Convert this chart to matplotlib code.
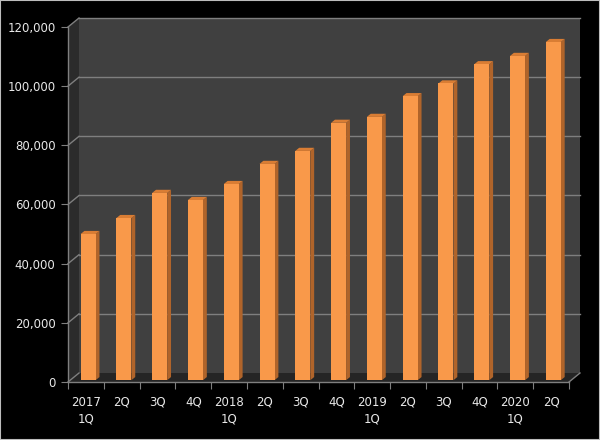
import matplotlib
matplotlib.use("Agg")
from matplotlib import pyplot as plt
from matplotlib.patches import Polygon, Rectangle
import numpy as np

# quarterly values
quarters = ["2017\n1Q", "2Q", "3Q", "4Q", "2018\n1Q", "2Q", "3Q", "4Q",
            "2019\n1Q", "2Q", "3Q", "4Q", "2020\n1Q", "2Q"]
values = [49400, 54800, 63300, 60900, 66300, 73100, 77500, 87000,
          89000, 96000, 100300, 106800, 109600, 114300]
y_ticks = [0, 20000, 40000, 60000, 80000, 100000, 120000]
y_labels = ["0", "20,000", "40,000", "60,000", "80,000", "100,000", "120,000"]

W, H = 600, 440
fig = plt.figure(figsize=(W / 100, H / 100), dpi=100, facecolor="black")
# front plane of the 3D box, in pixels
left_px, right_px, bot_px, top_px = 68, 569, 382, 27
ax = fig.add_axes([left_px / W, 1 - bot_px / H,
                   (right_px - left_px) / W, (bot_px - top_px) / H])
ax.set_facecolor("none")

n = len(values)
ymax = 120000
ax.set_xlim(0, n)
ax.set_ylim(0, ymax)

# depth offset of the back wall (11 px right, 9 px up) in data units
DX = 11 / ((right_px - left_px) / n)
DY = 9 * ymax / (bot_px - top_px)

wall_c = "#404040"
side_c = "#2b2b2b"
floor_c = "#252525"
grid_c = "#7f7f7f"

# back wall
ax.add_patch(Rectangle((DX, DY), n, ymax, facecolor=wall_c, edgecolor="none",
                       zorder=0, clip_on=False))
# left side wall
ax.add_patch(Polygon([(0, 0), (DX, DY), (DX, ymax + DY), (0, ymax)],
                     closed=True, facecolor=side_c, edgecolor="none",
                     zorder=0.5, clip_on=False))
# floor
ax.add_patch(Polygon([(0, 0), (n, 0), (n + DX, DY), (DX, DY)], closed=True,
                     facecolor=floor_c, edgecolor="none", zorder=0.5,
                     clip_on=False))

# gridlines on wall + side
for yv in y_ticks[1:]:
    ax.plot([DX, n + DX], [yv + DY, yv + DY], color=grid_c, lw=1,
            zorder=1, clip_on=False)
    ax.plot([0, DX], [yv, yv + DY], color=grid_c, lw=1, zorder=1,
            clip_on=False)
ax.plot([0, DX], [0, DY], color=grid_c, lw=1, zorder=1, clip_on=False)
ax.plot([n, n + DX], [0, DY], color=grid_c, lw=1, zorder=1, clip_on=False)

# 3D bars
f0, f1 = 0.2, 0.55
bw = 0.42
xs = np.arange(n) + 0.5 + f0 * DX
base = f0 * DY
ddx = (f1 - f0) * DX
ddy = (f1 - f0) * DY
front_c = "#f9994a"
top_c = "#d97d34"
sidebar_c = "#b0642a"
ax.bar(xs, values, width=bw, bottom=base, color=front_c, zorder=3)
for x, v in zip(xs, values):
    xl, xr = x - bw / 2, x + bw / 2
    top = base + v
    ax.add_patch(Polygon([(xr, base), (xr + ddx, base + ddy),
                          (xr + ddx, top + ddy), (xr, top)], closed=True,
                         facecolor=sidebar_c, edgecolor="none", zorder=2.9))
    ax.add_patch(Polygon([(xl, top), (xr, top), (xr + ddx, top + ddy),
                          (xl + ddx, top + ddy)], closed=True,
                         facecolor=top_c, edgecolor="none", zorder=2.9))

# axes lines and ticks
for s in ["top", "right"]:
    ax.spines[s].set_visible(False)
for s in ["left", "bottom"]:
    ax.spines[s].set_color(grid_c)
    ax.spines[s].set_linewidth(1)
ax.set_yticks(y_ticks)
ax.set_yticklabels(y_labels)
ax.set_xticks(np.arange(n + 1))
ax.set_xticklabels([])
ax.set_xticks(np.arange(n) + 0.5, minor=True)
ax.set_xticklabels(quarters, minor=True)
ax.tick_params(axis="y", colors=grid_c, labelcolor="#e8e8e8", length=5,
               labelsize=8.5, pad=4)
ax.tick_params(axis="x", which="major", colors=grid_c, length=5)
ax.tick_params(axis="x", which="minor", length=0, labelcolor="#e8e8e8",
               labelsize=8.5, pad=10)
for lbl in ax.get_xticklabels(minor=True):
    lbl.set_linespacing(1.35)

# thin frame around the picture
fig.patches.append(Rectangle((0, 0), 1, 1, transform=fig.transFigure,
                             facecolor="none", edgecolor="#bdbdbd", lw=1.5))

fig.savefig("out.png", dpi=100, facecolor="black")
